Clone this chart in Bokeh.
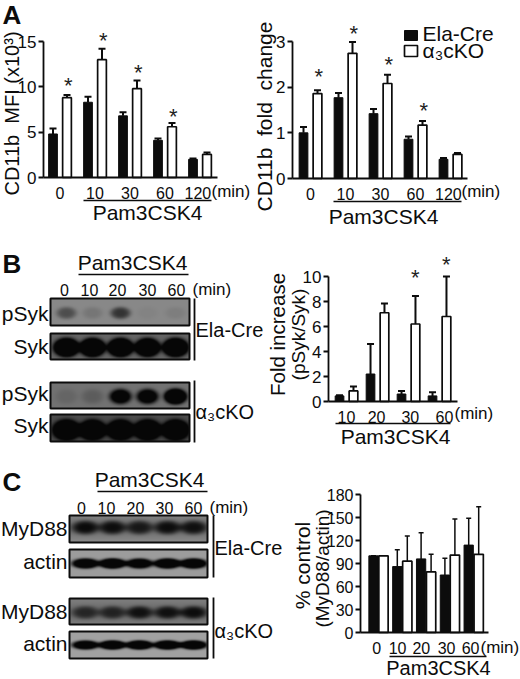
import numpy as np
from bokeh.core.properties import value
from bokeh.embed import file_html
from bokeh.layouts import column, row
from bokeh.models import FixedTicker, LinearColorMapper, Range1d
from bokeh.palettes import Greys256
from bokeh.plotting import figure
from bokeh.resources import INLINE

FONT = "Liberation Sans"
INK = "#0c0c0c"

# ---- data ----
a1_labels = ["0", "10", "30", "60", "120"]
a1_black = [4.8, 8.3, 6.8, 4.1, 2.0]
a1_black_top = [5.4, 8.9, 7.2, 4.3, 2.1]
a1_white = [8.8, 13.0, 9.8, 5.6, 2.55]
a1_white_top = [9.1, 14.2, 10.7, 6.0, 2.75]
a1_star_group = [0, 1, 2, 3]
a1_star_y = [10.7, 15.7, 12.1, 7.3]

a2_black = [1.0, 1.77, 1.42, 0.86, 0.42]
a2_black_top = [1.13, 1.87, 1.52, 0.92, 0.45]
a2_white = [1.86, 2.74, 2.08, 1.17, 0.53]
a2_white_top = [1.93, 2.99, 2.27, 1.26, 0.56]
a2_star_group = [0, 1, 2, 3]
a2_star_y = [2.34, 3.28, 2.6, 1.6]

b_labels = ["10", "20", "30", "60"]
b_black = [0.45, 2.2, 0.6, 0.45]
b_black_top = [0.5, 4.6, 0.85, 0.75]
b_white = [0.85, 7.1, 6.2, 6.8]
b_white_top = [1.2, 7.85, 8.45, 10.0]
b_star_group = [2, 3]
b_star_y = [10.35, 11.4]

c_labels = ["0", "10", "20", "30", "60"]
c_black = [100, 86, 96, 75, 114]
c_black_top = [100, 108, 130, 97, 149]
c_white = [100, 93, 79, 101, 102]
c_white_top = [100, 126, 102, 148, 164]

blot_lane_labels = ["0", "10", "20", "30", "60"]
psyk_ela = [0.45, 0.14, 0.65, 0.04, 0.08]
syk_ela = [2.5, 2.5, 2.5, 2.3, 2.5]
psyk_ko = [0.12, 0.2, 1.4, 1.4, 2.2]
syk_ko = [2.6, 2.5, 2.5, 2.6, 2.6]
myd_ela = [0.72, 0.7, 0.62, 0.7, 0.68]
actin_ela = [1.6, 1.8, 1.5, 1.7, 1.7]
myd_ko = [0.55, 0.58, 0.72, 0.72, 0.75]
actin_ko = [1.5, 1.7, 1.7, 1.7, 1.7]


def base(box, xr, yr):
    x0, y0, x1, y1 = box
    p = figure(width=x1 - x0, height=y1 - y0, x_range=xr, y_range=yr,
               output_backend="svg", toolbar_location=None, min_border=0,
               outline_line_color=None, background_fill_color="white",
               border_fill_color="white", x_axis_type="linear")
    p.extra_x_ranges["px"] = Range1d(x0, x1)
    p.extra_y_ranges["px"] = Range1d(y1, y0)
    p.grid.visible = False
    return p


def txt(p, x, y, s, size=17, align="center", angle=0, bold=False):
    p.text([x], [y], text=[s], x_range_name="px", y_range_name="px",
           text_font=value(FONT), text_font_size=f"{size}px", text_color=INK,
           text_align=align, text_baseline="middle", angle=angle,
           angle_units="deg", text_font_style="bold" if bold else "normal")


def hline(p, x0, x1, y, w=1.6):
    p.segment([x0], [y], [x1], [y], x_range_name="px", y_range_name="px",
              line_color=INK, line_width=w)


def vline(p, x, y0, y1, w=1.8):
    p.segment([x], [y0], [x], [y1], x_range_name="px", y_range_name="px",
              line_color=INK, line_width=w)


def chart(box, xz, xu, yz, yu, ax_x0, ax_x1, ymax, yticks, ticks, labels,
          blk, blk_t, wht, wht_t, off, bw, lw=2.0, cap=7, yfont=17):
    x0, y0, x1, y1 = box
    p = base(box, Range1d((x0 - xz) / xu, (x1 - xz) / xu),
             Range1d((yz - y1) / yu, (yz - y0) / yu))
    ax_l, ax_r = (ax_x0 - xz) / xu, (ax_x1 - xz) / xu
    ax = p.xaxis[0]
    ax.fixed_location = 0
    ax.bounds = (ax_l, ax_r)
    ax.ticker = FixedTicker(ticks=list(ticks))
    ax.major_label_overrides = {t: l for t, l in zip(ticks, labels)}
    ax.major_tick_line_color = None
    ax.minor_tick_line_color = None
    ax.axis_line_width = 1.8
    ax.axis_line_color = INK
    ax.major_label_standoff = 3
    ax.major_label_text_font = FONT
    ax.major_label_text_font_size = "16px"
    ax.major_label_text_color = INK
    ay = p.yaxis[0]
    ay.fixed_location = ax_l
    ay.bounds = (0, ymax)
    ay.ticker = FixedTicker(ticks=list(yticks))
    ay.major_tick_in = 0
    ay.major_tick_out = 5
    ay.major_tick_line_width = 1.8
    ay.major_tick_line_color = INK
    ay.minor_tick_line_color = None
    ay.axis_line_width = 1.8
    ay.axis_line_color = INK
    ay.major_label_standoff = 2
    ay.major_label_text_font = FONT
    ay.major_label_text_font_size = f"{yfont}px"
    ay.major_label_text_color = INK
    g = np.arange(len(blk))
    gb, gw = g - off, g + off
    p.segment(gb, blk, gb, blk_t, line_color=INK, line_width=lw)
    p.scatter(gb, blk_t, marker="dash", size=cap, line_color=INK, line_width=lw)
    p.segment(gw, wht, gw, wht_t, line_color=INK, line_width=lw)
    p.scatter(gw, wht_t, marker="dash", size=cap, line_color=INK, line_width=lw)
    p.vbar(gb, width=bw, top=blk, bottom=0, fill_color=INK, line_color=INK, line_width=1)
    p.vbar(gw, width=bw, top=wht, bottom=0, fill_color="white", line_color=INK, line_width=1.7)
    return p


def stars(p, groups, ys, off):
    p.text(np.array(groups) + off, ys, text=["*"] * len(ys),
           text_font=value(FONT), text_font_size="22px", text_color="#222222",
           text_align="center", text_baseline="middle", y_offset=5)


def blot(p, x0, x1, y0, y1, lanes, strengths, wx, wy, bg, dy=0.0, smear=0.0):
    """Grey blot panel; band darkness for every lane comes from the strengths list."""
    xs = np.arange(x0, x1) + 0.5
    ys = np.arange(y0, y1) + 0.5
    X, Y = np.meshgrid(xs, ys)
    yc = (y0 + y1) / 2 + dy
    dark = smear * np.exp(-(((Y - yc) / 11) ** 2))
    for lx, s in zip(lanes, strengths):
        dark += s * np.exp(-((((X - lx) / wx) ** 2 + ((Y - yc) / wy) ** 2) ** 2))
    arr = bg * (1 - np.clip(dark, 0, 1)) + 6
    mapper = LinearColorMapper(palette=Greys256, low=0, high=255)
    p.image(image=[arr], x=x0, y=y0, dw=x1 - x0, dh=y1 - y0, color_mapper=mapper,
            x_range_name="px", y_range_name="px")
    p.quad(left=[x0], right=[x1], top=[y0], bottom=[y1], fill_color=None,
           line_color="#0c0c0c", line_width=2, x_range_name="px", y_range_name="px")


# ---- panel A ----
box = (0, 0, 251, 240)
pa1 = chart(box, 59.5, 35, 177, 136 / 15, 43, 217, 15, [0, 5, 10, 15],
            [0, 1, 2, 3, 3.94], a1_labels, a1_black, a1_black_top, a1_white, a1_white_top, 0.2, 0.25)
stars(pa1, a1_star_group, a1_star_y, 0.24)
txt(pa1, 2, 14, "A", 26, "left", bold=True)
txt(pa1, 11, 113, "CD11b\u00a0\u00a0MFI (x10³)", 20, angle=90)
txt(pa1, 211, 191, "(min)", 17, "left")
hline(pa1, 83, 211, 200)
txt(pa1, 147, 212, "Pam3CSK4", 21)

box = (251, 0, 520, 240)
pa2 = chart(box, 310, 35, 178, 137 / 3, 292, 467, 3, [0, 1, 2, 3],
            [0, 1, 2, 3, 3.94], a1_labels, a2_black, a2_black_top, a2_white, a2_white_top, 0.2, 0.25)
stars(pa2, a2_star_group, a2_star_y, 0.24)
txt(pa2, 264, 116, "CD11b\u00a0\u00a0fold\u00a0\u00a0change", 21, angle=90)
txt(pa2, 461, 191, "(min)", 17, "left")
hline(pa2, 333, 461, 201)
txt(pa2, 383, 216, "Pam3CSK4", 21)
pa2.quad(left=[404], right=[417], top=[30], bottom=[40], fill_color=INK, line_color=INK,
         x_range_name="px", y_range_name="px")
pa2.quad(left=[404], right=[417], top=[45], bottom=[56], fill_color="white", line_color=INK,
         line_width=1.7, x_range_name="px", y_range_name="px")
txt(pa2, 422, 33, "Ela-Cre", 21, "left")
txt(pa2, 422, 50, "α₃cKO", 21, "left")

# ---- panel B ----
box = (0, 240, 267, 460)
pb1 = base(box, Range1d(0, 267), Range1d(460, 240))
pb1.axis.visible = False
b_lanes = [64, 89, 117, 147, 176]
b_bands = [66, 92, 120, 147, 175]
blot(pb1, 50, 189, 298, 325, b_bands, psyk_ela, 10, 6, 130, dy=1)
blot(pb1, 50, 189, 333, 359, b_bands, syk_ela, 12.5, 9, 95, dy=1)
blot(pb1, 50, 189, 382, 408, b_bands, psyk_ko, 11, 7.5, 108, dy=1)
blot(pb1, 50, 189, 414, 441, b_bands, syk_ko, 13.5, 10, 70, dy=2)
txt(pb1, 2, 263, "B", 26, "left", bold=True)
txt(pb1, 132, 262, "Pam3CSK4", 21)
hline(pb1, 78, 188, 274)
for lx, l in zip(b_lanes, blot_lane_labels):
    txt(pb1, lx, 289, l, 16)
txt(pb1, 192, 289, "(min)", 17, "left")
txt(pb1, 48, 313, "pSyk", 21, "right")
txt(pb1, 48, 346, "Syk", 21, "right")
txt(pb1, 48, 393, "pSyk", 21, "right")
txt(pb1, 48, 425, "Syk", 21, "right")
vline(pb1, 194, 298, 360)
vline(pb1, 194, 380, 442)
txt(pb1, 195, 329, "Ela-Cre", 20, "left")
txt(pb1, 195, 411, "α₃cKO", 20, "left")

box = (267, 240, 520, 460)
pb2 = chart(box, 346, 31, 401, 12.5, 328, 457, 10, [0, 2, 4, 6, 8, 10],
            [0, 0.97, 2.06, 3.16], b_labels, b_black, b_black_top, b_white, b_white_top, 0.225, 0.28)
stars(pb2, b_star_group, b_star_y, 0.22)
txt(pb2, 277, 334, "Fold increase", 20.5, angle=90)
txt(pb2, 298, 334, "(pSyk/Syk)", 19, angle=90)
txt(pb2, 454, 413, "(min)", 17, "left")
hline(pb2, 335, 450, 423)
txt(pb2, 395, 436, "Pam3CSK4", 21)

# ---- panel C ----
box = (0, 460, 290, 679)
pc1 = base(box, Range1d(0, 290), Range1d(679, 460))
pc1.axis.visible = False
c_lanes = [81, 106, 135, 164, 193]
c_bands = [85, 112, 139, 167, 193]
blot(pc1, 69, 207, 515, 542, c_bands, myd_ela, 13.5, 7, 135, dy=-1.5, smear=0.25)
blot(pc1, 69, 207, 549, 577, c_bands, actin_ela, 13.5, 5, 150)
blot(pc1, 69, 207, 598, 624, c_bands, myd_ko, 13.5, 6.5, 125, dy=1, smear=0.2)
blot(pc1, 69, 207, 631, 658, c_bands, actin_ko, 13.5, 4.5, 155)
txt(pc1, 2, 481, "C", 26, "left", bold=True)
txt(pc1, 149, 479, "Pam3CSK4", 21)
hline(pc1, 97, 207, 491)
for lx, l in zip(c_lanes, blot_lane_labels):
    txt(pc1, lx, 507, l, 16)
txt(pc1, 209, 507, "(min)", 17, "left")
txt(pc1, 67, 528, "MyD88", 21, "right")
txt(pc1, 67, 561, "actin", 21, "right")
txt(pc1, 67, 611, "MyD88", 21, "right")
txt(pc1, 67, 643, "actin", 21, "right")
vline(pc1, 213, 515, 577)
vline(pc1, 213, 597, 658)
txt(pc1, 214, 547, "Ela-Cre", 20, "left")
txt(pc1, 214, 630, "α₃cKO", 20, "left")

box = (290, 460, 520, 679)
pc2 = chart(box, 378, 23.8, 632, 138 / 180, 360, 488, 180, [0, 30, 60, 90, 120, 150, 180],
            [-0.08, 0.8, 1.8, 2.86, 3.87], c_labels, c_black, c_black_top, c_white, c_white_top,
            0.21, 0.39, lw=1.5, cap=5, yfont=16)
txt(pc2, 302, 565, "% control", 21, angle=90)
txt(pc2, 322, 568, "(MyD88/actin)", 19, angle=90)
txt(pc2, 480, 647, "(min)", 17, "left")
hline(pc2, 389, 486, 656)
txt(pc2, 438, 667, "Pam3CSK4", 20)

root = column(row(pa1, pa2, spacing=0), row(pb1, pb2, spacing=0), row(pc1, pc2, spacing=0), spacing=0)
open("out.html", "w").write(file_html(root, INLINE))
